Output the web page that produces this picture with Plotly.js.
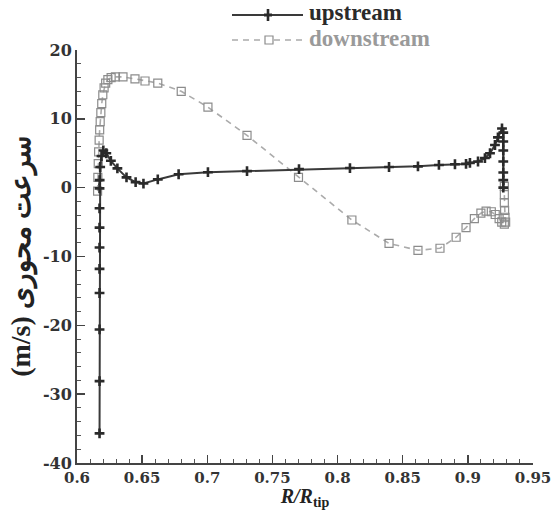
<!DOCTYPE html>
<html>
<head>
<meta charset="utf-8">
<script src="https://cdn.plot.ly/plotly-3.0.1.min.js"></script>
<style>html,body{margin:0;padding:0;background:#fff;}#chart{width:556px;height:510px;}</style>
</head>
<body>
<div id="chart"></div>
<script>
// R/R_tip positions and axial velocity (m/s)
const upstreamX = [0.6173, 0.6173, 0.6173, 0.6173, 0.6173, 0.6173, 0.6173, 0.6173, 0.6173, 0.6174,
  0.6178, 0.6188, 0.6202, 0.6225, 0.626, 0.631, 0.638, 0.645, 0.651, 0.662,
  0.678, 0.7005, 0.7305, 0.7704, 0.8095, 0.8395, 0.8617, 0.8778, 0.8901, 0.8986,
  0.9016, 0.9078, 0.9131, 0.917, 0.9208, 0.9231, 0.9262, 0.9272, 0.9272, 0.9272,
  0.9272, 0.9272, 0.9272, 0.9272];
const upstreamY = [-35.7, -28.1, -20.6, -15.3, -11.8, -8.7, -5.8, -3.0, -0.1, 1.1,
  3.0, 4.6, 5.4, 5.0, 3.9, 2.8, 1.5, 0.8, 0.6, 1.2,
  1.95, 2.25, 2.4, 2.7, 2.85, 3.0, 3.1, 3.3, 3.4, 3.45,
  3.6, 3.8, 4.3, 5.0, 6.2, 7.3, 8.6, 8.0, 6.7, 5.4,
  3.8, 2.2, 1.1, 0.0];

const downstreamX = [0.6158, 0.616, 0.6163, 0.6166, 0.617, 0.6174, 0.6178, 0.6183, 0.619, 0.6198,
  0.6208, 0.622, 0.6237, 0.6262, 0.6295, 0.6353, 0.6445, 0.6522, 0.662, 0.680,
  0.7005, 0.7305, 0.770, 0.811, 0.8395, 0.8617, 0.8786, 0.891, 0.8986, 0.905,
  0.910, 0.914, 0.918, 0.921, 0.924, 0.926, 0.928, 0.929, 0.9285, 0.9282,
  0.928, 0.928, 0.928];
const downstreamY = [-0.5, 1.5, 3.5, 5.2, 6.9, 8.4, 9.6, 10.9, 12.2, 13.5,
  14.5, 15.2, 15.7, 16.0, 16.1, 16.1, 15.8, 15.5, 15.2, 14.0,
  11.7, 7.6, 1.5, -4.7, -8.1, -9.1, -8.8, -7.2, -5.8, -4.5,
  -3.7, -3.4, -3.5, -3.9, -4.5, -5.0, -5.3, -5.0, -4.3, -3.3,
  -2.2, -1.0, 0.2];

const xTicks = [0.6, 0.65, 0.7, 0.75, 0.8, 0.85, 0.9, 0.95];
const xTickText = ['0.6', '0.65', '0.7', '0.75', '0.8', '0.85', '0.9', '0.95'];
const yTicks = [-40, -30, -20, -10, 0, 10, 20];
const yTickText = ['-40', '-30', '-20', '-10', '0', '10', '20'];
const seriesNames = ['upstream', 'downstream'];

const serif = '"Liberation Serif", "Times New Roman", serif';
const wideSerif = '"DejaVu Serif", "Liberation Serif", serif';
const bold = arr => arr.map(t => '<b>' + t + '</b>');

const upColor = '#2a2a2a', downColor = '#9a9a9a';

const traces = [
  {
    x: downstreamX, y: downstreamY, type: 'scatter', mode: 'lines+markers',
    name: seriesNames[1], showlegend: false,
    line: {color: '#ababab', width: 1.6, dash: '6px,5px'},
    marker: {symbol: 'square-open', size: 8, color: '#8c8c8c', line: {width: 1.2, color: '#8c8c8c'}}
  },
  {
    x: upstreamX, y: upstreamY, type: 'scatter', mode: 'lines+markers',
    name: seriesNames[0], showlegend: false,
    line: {color: '#3a3a3a', width: 2},
    marker: {symbol: 'cross-thin-open', size: 7, color: upColor, line: {width: 2.6, color: upColor}}
  }
];

// legend drawn in the top margin (paper coordinates)
const W = 456, H = 413, L = 77, T = 50;
const px = v => (v - L) / W;
const py = v => (T + H - v) / H;

const shapes = [
  {type: 'line', xref: 'paper', yref: 'paper', x0: px(232), x1: px(303), y0: py(15), y1: py(15), line: {color: '#3a3a3a', width: 2}},
  {type: 'line', xref: 'paper', yref: 'paper', x0: px(268), x1: px(268), y0: py(9), y1: py(21), line: {color: upColor, width: 2.6}},
  {type: 'line', xref: 'paper', yref: 'paper', x0: px(264), x1: px(272), y0: py(15), y1: py(15), line: {color: upColor, width: 3}},
  {type: 'line', xref: 'paper', yref: 'paper', x0: px(232), x1: px(264), y0: py(40), y1: py(40), line: {color: '#ababab', width: 1.6, dash: '6px,5px'}},
  {type: 'line', xref: 'paper', yref: 'paper', x0: px(274), x1: px(303), y0: py(40), y1: py(40), line: {color: '#ababab', width: 1.6, dash: '6px,5px'}},
  {type: 'rect', xref: 'paper', yref: 'paper', x0: px(265), x1: px(273), y0: py(36), y1: py(44), line: {color: '#8c8c8c', width: 1.2}, fillcolor: 'rgba(0,0,0,0)'}
];

const annotations = [
  {xref: 'paper', yref: 'paper', x: px(308), y: py(13), xanchor: 'left', yanchor: 'middle', showarrow: false,
   text: '<b>' + seriesNames[0] + '</b>', font: {family: serif, size: 23, color: upColor}, borderpad: 0},
  {xref: 'paper', yref: 'paper', x: px(308), y: py(39), xanchor: 'left', yanchor: 'middle', showarrow: false,
   text: '<b>' + seriesNames[1] + '</b>', font: {family: serif, size: 23, color: downColor}, borderpad: 0}
];

const layout = {
  width: 556, height: 510,
  margin: {l: 77, r: 23, t: 50, b: 47, autoexpand: false},
  paper_bgcolor: '#fff', plot_bgcolor: '#fff',
  font: {family: serif, size: 16, color: '#333'},
  showlegend: false,
  shapes: shapes,
  annotations: annotations,
  xaxis: {
    range: [0.6, 0.95], tickmode: 'array', tickvals: xTicks, ticktext: bold(xTickText),
    showgrid: false, zeroline: false, showline: true, linecolor: '#444', linewidth: 2,
    ticks: 'inside', ticklen: 8, tickwidth: 1.5, tickcolor: '#444',
    minor: {dtick: 0.01, tick0: 0.6, ticks: 'inside', ticklen: 4, tickwidth: 1, tickcolor: '#555', showgrid: false},
    tickfont: {family: wideSerif, size: 15, color: '#333'},
    title: {text: '<b><i>R/R</i><sub>tip</sub></b>', font: {family: serif, size: 20, color: '#222'}, standoff: 5}
  },
  yaxis: {
    range: [-40, 20], tickmode: 'array', tickvals: yTicks, ticktext: bold(yTickText),
    showgrid: false, zeroline: false, showline: true, linecolor: '#444', linewidth: 2,
    ticks: 'inside', ticklen: 8, tickwidth: 1.5, tickcolor: '#444',
    minor: {dtick: 2, tick0: 0, ticks: 'inside', ticklen: 4, tickwidth: 1, tickcolor: '#555', showgrid: false},
    tickfont: {family: wideSerif, size: 16, color: '#333'},
    title: {text: '<b>(m/s) سرعت محوری</b>', font: {family: serif, size: 28, color: '#222'}, standoff: 4}
  }
};

Plotly.newPlot('chart', traces, layout, {displayModeBar: false, staticPlot: true});
</script>
</body>
</html>
